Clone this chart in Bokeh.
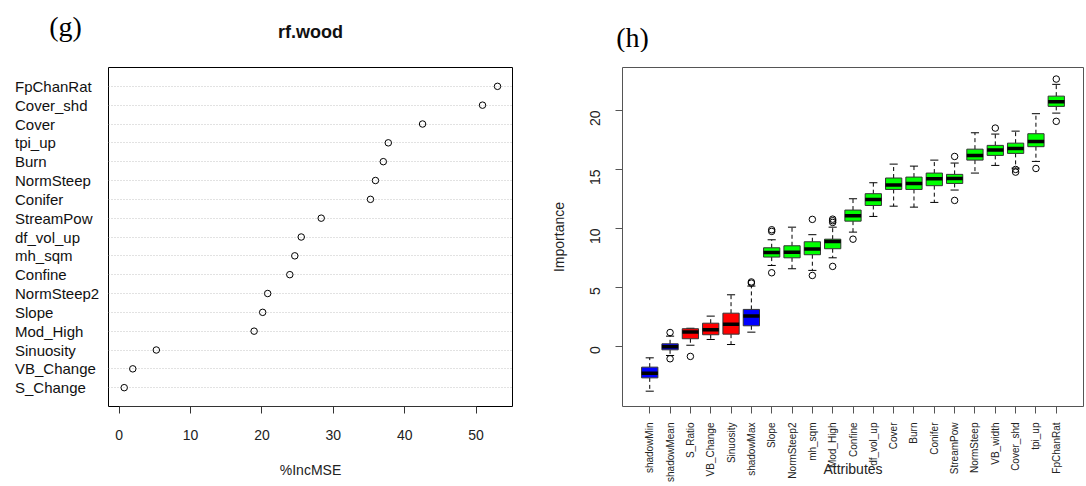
import math
from bokeh.plotting import figure
from bokeh.models import Range1d, FixedTicker
from bokeh.layouts import row, column
from bokeh.embed import file_html
from bokeh.resources import INLINE
from bokeh.core.properties import value

# ---------------- panel (g): rf.wood dot chart ----------------
rf_vars = ["S_Change", "VB_Change", "Sinuosity", "Mod_High", "Slope", "NormSteep2",
           "Confine", "mh_sqm", "df_vol_up", "StreamPow", "Conifer", "NormSteep",
           "Burn", "tpi_up", "Cover", "Cover_shd", "FpChanRat"]
inc_mse = [0.7, 1.9, 5.2, 18.9, 20.1, 20.8, 23.9, 24.6, 25.5, 28.3, 35.2, 35.9,
           37.0, 37.7, 42.5, 50.9, 53.0]
mse_ticks = [0, 10, 20, 30, 40, 50]

# ---------------- panel (h): Boruta importance boxplots ----------------
attrs = ["shadowMin", "shadowMean", "S_Ratio", "VB_Change", "Sinuosity", "shadowMax",
         "Slope", "NormSteep2", "mh_sqm", "Mod_High", "Confine", "df_vol_up", "Cover",
         "Burn", "Conifer", "StreamPow", "NormSteep", "VB_width", "Cover_shd", "tpi_up",
         "FpChanRat"]
decision = ["shadow", "shadow", "Rejected", "Rejected", "Rejected", "shadow"] + ["Confirmed"] * 15
whisk_lo = [-3.82, -0.79, 0.08, 0.57, 0.14, 1.19, 6.85, 6.57, 6.43, 7.50, 9.68, 11.01,
            11.88, 11.80, 12.20, 13.25, 14.69, 15.34, 15.11, 15.68, 19.78]
q1 = [-2.69, -0.31, 0.63, 0.97, 1.02, 1.73, 7.56, 7.50, 7.76, 8.27, 10.61, 11.94,
      13.30, 13.30, 13.62, 13.81, 15.79, 16.19, 16.36, 16.93, 20.35]
med = [-2.30, -0.05, 1.20, 1.39, 1.87, 2.55, 7.95, 7.98, 8.24, 8.89, 11.07, 12.45,
       13.68, 13.81, 14.21, 14.24, 16.19, 16.64, 16.78, 17.38, 20.75]
q3 = [-1.78, 0.20, 1.48, 1.95, 2.80, 3.12, 8.35, 8.52, 8.86, 9.08, 11.55, 12.94,
      14.27, 14.35, 14.69, 14.58, 16.72, 17.04, 17.23, 18.03, 21.22]
whisk_hi = [-0.99, 0.85, 1.52, 2.55, 4.36, 5.10, 9.03, 10.10, 9.46, 10.10, 12.51, 13.87,
            15.45, 15.28, 15.79, 15.54, 18.11, 18.00, 18.25, 19.73, 22.22]
out_attr = ["shadowMean", "shadowMean", "S_Ratio", "shadowMax", "shadowMax", "Slope", "Slope",
            "Slope", "mh_sqm", "mh_sqm", "Mod_High", "Mod_High", "Mod_High", "Mod_High",
            "Confine", "StreamPow", "StreamPow", "VB_width", "Cover_shd", "Cover_shd",
            "tpi_up", "FpChanRat", "FpChanRat"]
out_val = [1.16, -1.07, -0.87, 5.35, 5.45, 9.74, 9.88, 6.23, 10.76, 6.00, 10.50, 10.65,
           10.78, 6.77, 9.08, 16.10, 12.37, 18.51, 15.00, 14.77, 15.08, 22.67, 19.08]
imp_ticks = [0, 5, 10, 15, 20]
dec_colors = {"shadow": "#0000ff", "Rejected": "#ff0000", "Confirmed": "#00ff00"}

# panel headings
heads = ["(g)", "rf.wood", "(h)"]

SANS = "Liberation Sans"
SERIF = "Liberation Serif"

W, H = 1086, 486
HEAD_H = 52                  # height of the heading strip
TOP, BOT = 67 - HEAD_H, 80   # frame borders of the panels below the strip
LBL_W = 107                  # width of the row-name column
PH = H - HEAD_H

# ======== heading strip (pixel coordinates, y downwards) ========
ph = figure(width=W, height=HEAD_H, x_range=Range1d(0, W), y_range=Range1d(HEAD_H, 0),
            output_backend="svg", toolbar_location=None,
            x_axis_location=None, y_axis_location=None,
            min_border_left=0, min_border_right=0, min_border_top=0, min_border_bottom=0)
ph.outline_line_color = None
ph.xgrid.visible = False
ph.ygrid.visible = False
ph.text(x=[65, 632], y=[26, 37], text=[heads[0], heads[2]], text_align="center",
        text_baseline="middle", text_font=value(SERIF), text_font_size="28px",
        text_color="black")
ph.text(x=[310], y=[31], text=[heads[1]], text_align="center", text_baseline="middle",
        text_font=value(SANS), text_font_style="bold", text_font_size="18px",
        text_color="#111111")

# ======== dot chart ========
row_pos = list(range(1, len(rf_vars) + 1))
yr1 = Range1d(0, len(rf_vars) + 1)
p1 = figure(width=540 - LBL_W, height=PH, x_range=Range1d(-1.5, 55.1), y_range=yr1,
            output_backend="svg", toolbar_location=None,
            min_border_left=1, min_border_right=28, min_border_top=TOP, min_border_bottom=BOT)
p1.outline_line_color = "black"
p1.outline_line_alpha = 1.0
p1.xgrid.visible = False
p1.ygrid.ticker = FixedTicker(ticks=row_pos)
p1.ygrid.grid_line_color = "#c4c4c4"
p1.ygrid.grid_line_dash = "1 2"
p1.yaxis.visible = False

p1.scatter(x=inc_mse, y=row_pos, marker="circle", size=6.5, fill_color=None,
           line_color="black", line_width=1)

ax = p1.xaxis[0]
ax.ticker = FixedTicker(ticks=mse_ticks)
ax.bounds = (mse_ticks[0], mse_ticks[-1])
ax.axis_line_color = "#333333"
ax.major_tick_line_color = "#333333"
ax.major_tick_out = 7
ax.major_tick_in = 0
ax.minor_tick_out = 0
ax.minor_tick_in = 0
ax.major_label_standoff = 16
ax.major_label_text_font = SANS
ax.major_label_text_font_size = "14px"
ax.major_label_text_color = "#222222"
ax.axis_label = "%IncMSE"
ax.axis_label_text_font = SANS
ax.axis_label_text_font_style = "normal"
ax.axis_label_text_font_size = "14px"
ax.axis_label_text_color = "#222222"
ax.axis_label_standoff = 19

# ======== row-name column (shares the y range of the dot chart) ========
pl = figure(width=LBL_W, height=PH, x_range=Range1d(0, LBL_W), y_range=yr1,
            output_backend="svg", toolbar_location=None,
            x_axis_location=None, y_axis_location=None,
            min_border_left=0, min_border_right=0, min_border_top=TOP, min_border_bottom=BOT)
pl.outline_line_color = None
pl.xgrid.visible = False
pl.ygrid.visible = False
pl.text(x=[14.5] * len(rf_vars), y=row_pos, text=rf_vars, text_align="left",
        text_baseline="middle", text_font=value(SANS), text_font_size="15px",
        text_color="#111111")

# ======== Boruta boxplots ========
n = len(attrs)
pos = list(range(1, n + 1))
idx = {a: i + 1 for i, a in enumerate(attrs)}
fills = [dec_colors[d] for d in decision]
p2 = figure(width=546, height=PH, x_range=Range1d(0.5 - 0.04 * n, n + 0.5 + 0.04 * n),
            y_range=Range1d(-5.12, 23.65), output_backend="svg", toolbar_location=None,
            min_border_left=82, min_border_right=3, min_border_top=TOP, min_border_bottom=BOT)
p2.outline_line_color = "#555555"
p2.outline_line_alpha = 1.0
p2.xgrid.visible = False
p2.ygrid.visible = False

half_box = 0.4
half_cap = 0.2
p2.segment(x0=pos, y0=q3, x1=pos, y1=whisk_hi, line_color="black", line_width=1, line_dash="4 3")
p2.segment(x0=pos, y0=q1, x1=pos, y1=whisk_lo, line_color="black", line_width=1, line_dash="4 3")
p2.segment(x0=[p - half_cap for p in pos], y0=whisk_hi, x1=[p + half_cap for p in pos], y1=whisk_hi,
           line_color="black", line_width=1)
p2.segment(x0=[p - half_cap for p in pos], y0=whisk_lo, x1=[p + half_cap for p in pos], y1=whisk_lo,
           line_color="black", line_width=1)
p2.vbar(x=pos, width=2 * half_box, bottom=q1, top=q3, fill_color=fills,
        line_color="#333333", line_width=1)
p2.segment(x0=[p - half_box for p in pos], y0=med, x1=[p + half_box for p in pos], y1=med,
           line_color="black", line_width=3.5)
p2.scatter(x=[idx[a] for a in out_attr], y=out_val, marker="circle", size=6.5,
           fill_color=None, line_color="black", line_width=1)

ya = p2.yaxis[0]
ya.ticker = FixedTicker(ticks=imp_ticks)
ya.bounds = (imp_ticks[0], imp_ticks[-1])
ya.axis_line_color = "#555555"
ya.major_tick_line_color = "#555555"
ya.major_tick_out = 7
ya.major_tick_in = 0
ya.minor_tick_out = 0
ya.minor_tick_in = 0
ya.major_label_orientation = math.pi / 2
ya.major_label_standoff = 20
ya.major_label_text_font = SANS
ya.major_label_text_font_size = "14px"
ya.major_label_text_color = "#222222"
ya.axis_label = "Importance"
ya.axis_label_text_font = SANS
ya.axis_label_text_font_style = "normal"
ya.axis_label_text_font_size = "14px"
ya.axis_label_text_color = "#222222"
ya.axis_label_standoff = 16

xa = p2.xaxis[0]
xa.ticker = FixedTicker(ticks=pos)
xa.major_label_overrides = {p: a for p, a in zip(pos, attrs)}
xa.bounds = (pos[0], pos[-1])
xa.axis_line_color = "#555555"
xa.major_tick_line_color = "#555555"
xa.major_tick_out = 7
xa.major_tick_in = 0
xa.minor_tick_out = 0
xa.minor_tick_in = 0
xa.major_label_orientation = math.pi / 2
xa.major_label_standoff = 9
xa.major_label_text_font = SANS
xa.major_label_text_font_size = "10px"
xa.major_label_text_color = "#222222"
xa.axis_label = "Attributes"
xa.axis_label_text_font = SANS
xa.axis_label_text_font_style = "normal"
xa.axis_label_text_font_size = "14px"
xa.axis_label_text_color = "#222222"
xa.axis_label_standoff = -24

layout = column(ph, row(pl, p1, p2))
open("out.html", "w").write(file_html(layout, INLINE))
